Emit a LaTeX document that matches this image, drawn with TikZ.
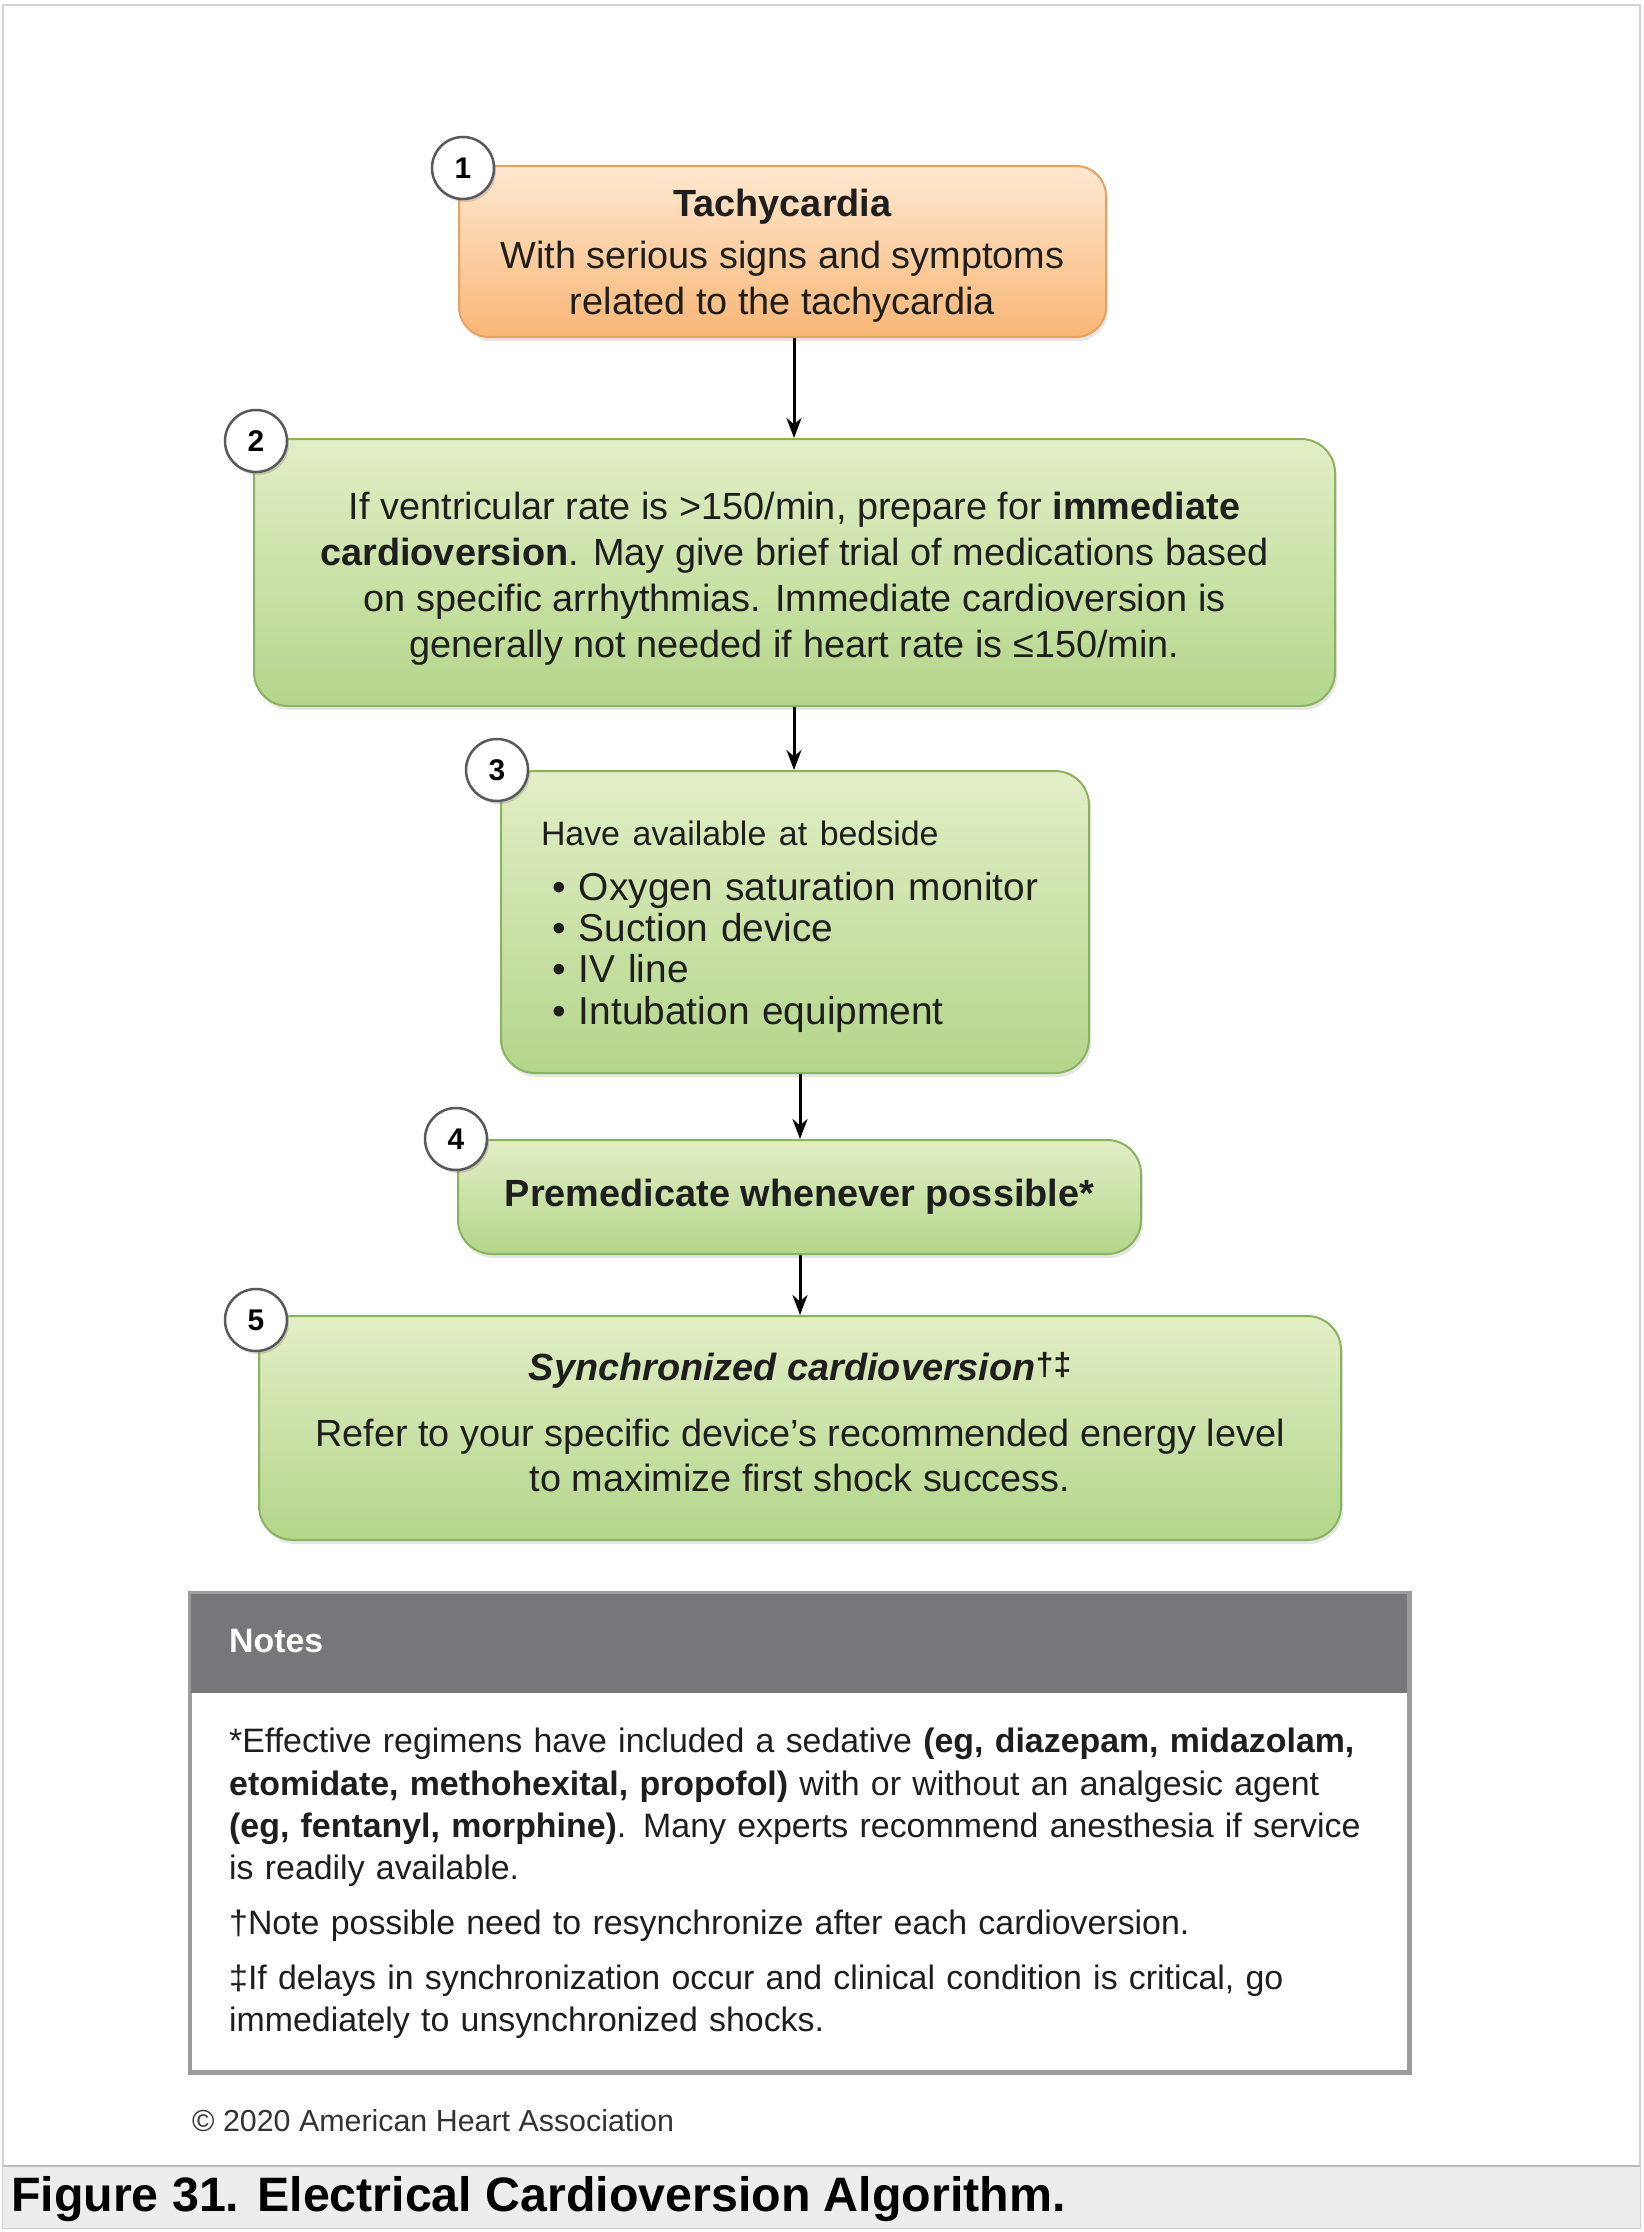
\documentclass[tikz,border=0pt]{standalone}
\usepackage{fontspec}
\setmainfont{Liberation Sans}
\usetikzlibrary{arrows.meta,shadows}
\definecolor{gtop}{HTML}{E3EEC6}
\definecolor{gbot}{HTML}{B3D68A}
\definecolor{gline}{HTML}{89B45E}
\definecolor{otop}{HTML}{FEE8D0}
\definecolor{obot}{HTML}{F9B676}
\definecolor{oline}{HTML}{E6A25E}
\definecolor{txt}{HTML}{1E1E1E}
\definecolor{hdr}{HTML}{76777A}
\definecolor{framec}{HTML}{D2D2D2}
\definecolor{capbg}{HTML}{EDEDED}
\definecolor{notesline}{HTML}{9C9C9C}
\newcommand\bodyfont{\fontsize{38}{46}\selectfont}
\tikzset{
  gbox/.style={draw=gline, line width=2bp, rounded corners=34bp, top color=gtop, bottom color=gbot,
    anchor=north west, inner sep=0pt, align=center, text=txt, font=\bodyfont,
    drop shadow={shadow xshift=2bp, shadow yshift=-4bp, opacity=0.2}},
  obox/.style={gbox, draw=oline, top color=otop, bottom color=obot, rounded corners=30bp},
  num/.style={circle, draw=black!65, line width=2.5bp, fill=white, minimum size=62bp, inner sep=0pt,
    text=black, font=\fontsize{30}{30}\selectfont\bfseries,
    drop shadow={shadow xshift=2bp, shadow yshift=-3bp, opacity=0.3}},
  arr/.style={-{Stealth[length=20bp,width=15bp]}, line width=3bp, black},
  plain/.style={inner sep=0pt, anchor=west, text=txt}
}
\begin{document}
\begin{tikzpicture}[x=1bp,y=-1bp]
\useasboundingbox (0,0) rectangle (1643,2232);
% outer frame and caption band
\draw[framec, line width=2.5bp] (3,5) rectangle (1640,2228);
\fill[capbg] (3,2166) rectangle (1640,2228);
\draw[framec!90!black, line width=2.5bp] (3,2166) -- (1640,2166);

% boxes
\node[obox, minimum width=647bp, minimum height=171bp] (b1) at (458,165)
  {\rule{0pt}{36bp}\textbf{Tachycardia}\\[6bp]With serious signs and symptoms\\related to the tachycardia};
\node[gbox, minimum width=1081bp, minimum height=267bp] (b2) at (253,438)
  {\rule{0pt}{40bp}If ventricular rate is >150/min, prepare for \textbf{immediate}\\
   \textbf{cardioversion}. May give brief trial of medications based\\
   on specific arrhythmias. Immediate cardioversion is\\
   generally not needed if heart rate is ≤150/min.};
\node[gbox, minimum width=588bp, minimum height=302bp, text width=508bp, align=left, inner xsep=40bp] (b3) at (500,770)
  {{\fontsize{34}{40}\selectfont\rule{0pt}{34bp}Have available at bedside\par}
   \vspace{13bp}
   {\fontsize{39}{41.5}\selectfont
   \hspace*{11bp}\makebox[27bp][l]{•}Oxygen saturation monitor\par
   \hspace*{11bp}\makebox[27bp][l]{•}Suction device\par
   \hspace*{11bp}\makebox[27bp][l]{•}IV line\par
   \hspace*{11bp}\makebox[27bp][l]{•}Intubation equipment\par}};
\node[gbox, minimum width=683bp, minimum height=114bp] (b4) at (457,1139)
  {\textbf{Premedicate whenever possible*}};
\node[gbox, minimum width=1082bp, minimum height=224bp] (b5) at (258,1315)
  {{\bfseries\itshape Synchronized cardioversion}\raisebox{5bp}{\fontsize{32}{32}\selectfont\bfseries †‡}\\[20bp]
   Refer to your specific device’s recommended energy level\\
   to maximize first shock success.\rule[-12bp]{0pt}{12bp}};

% numbers
\node[num] (n1) at (463,168) {1};
\node[num] (n2) at (256,441) {2};
\node[num] (n3) at (497,770) {3};
\node[num] (n4) at (456,1139) {4};
\node[num] (n5) at (256,1320) {5};

% arrows
\coordinate (ax1) at (794,0);
\coordinate (ax2) at (800,0);
\draw[arr] (b1.south -| ax1) -- (b2.north -| ax1);
\draw[arr] (b2.south -| ax1) -- (b3.north -| ax1);
\draw[arr] (b3.south -| ax2) -- (b4.north -| ax2);
\draw[arr] (b4.south -| ax2) -- (b5.north -| ax2);

% notes
\node[draw=notesline, line width=3bp, fill=white, anchor=north west, inner sep=0pt,
  minimum width=1218bp, minimum height=478bp,
  drop shadow={shadow xshift=2bp, shadow yshift=-2bp, opacity=0.25}] (nb) at (189,1592) {};
\fill[hdr] (nb.north west) rectangle (1407,1693);
\draw[notesline, line width=3bp] (nb.north west) rectangle (nb.south east);
\node[plain, text=white, font=\fontsize{34}{34}\selectfont\bfseries] (nh) at (229,1641) {Notes};
\node[inner sep=0pt, anchor=north west, text=txt, text width=1160bp, align=left,
  font=\fontsize{34}{42.5}\selectfont] (nt) at (229,1728)
  {*Effective regimens have included a sedative \textbf{(eg, diazepam, midazolam,}\\
   \textbf{etomidate, methohexital, propofol)} with or without an analgesic agent\\
   \textbf{(eg, fentanyl, morphine)}. Many experts recommend anesthesia if service\\
   is readily available.\par\vspace{12bp}
   †Note possible need to resynchronize after each cardioversion.\par\vspace{13bp}
   ‡If delays in synchronization occur and clinical condition is critical, go\\
   immediately to unsynchronized shocks.\par};

% footer
\node[plain, text=black!80, font=\fontsize{30.5}{30.5}\selectfont] (cr) at (192,2121) {© 2020 American Heart Association};
\node[plain, text=black, font=\fontsize{48.5}{48.5}\selectfont\bfseries] (cap) at (11,2199) {Figure 31. Electrical Cardioversion Algorithm.};
\end{tikzpicture}
\end{document}
